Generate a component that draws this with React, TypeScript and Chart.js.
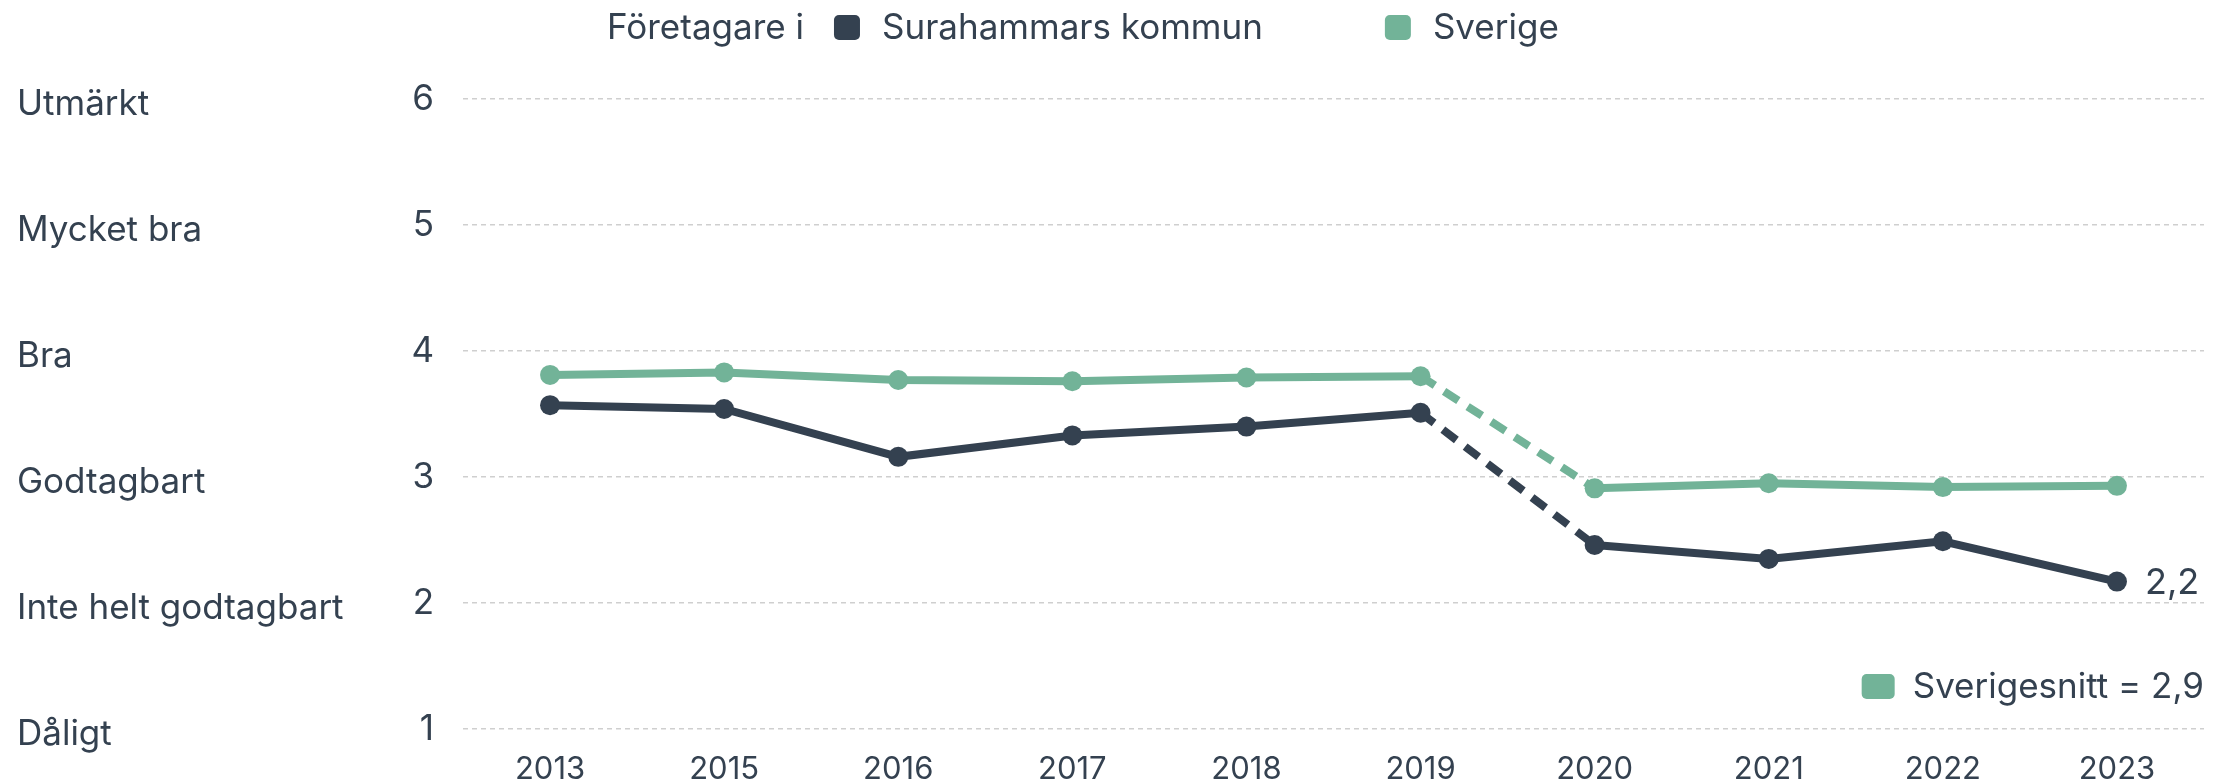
import React, { useEffect, useRef } from "react";
import { Chart, registerables } from "chart.js";

Chart.register(...registerables);

const years = ["2013", "2015", "2016", "2017", "2018", "2019", "2020", "2021", "2022", "2023"];
const surahammar = [3.57, 3.54, 3.16, 3.33, 3.4, 3.51, 2.46, 2.35, 2.49, 2.17];
const sverige = [3.81, 3.83, 3.77, 3.76, 3.79, 3.8, 2.91, 2.95, 2.92, 2.93];
const ratingLabels = ["Dåligt", "Inte helt godtagbart", "Godtagbart", "Bra", "Mycket bra", "Utmärkt"];
const legendPrefix = "Företagare i";
const seriesNames = ["Surahammars kommun", "Sverige"];
const avgLabel = "Sverigesnitt";

const DARK = "#344150";
const GREEN = "#72B398";
const TEXT = "#344150";
const FONT = 'Inter, "Noto Sans", sans-serif';
const W = 2229;
const H = 783;

const fmt = (v: number) => v.toFixed(1).replace(".", ",");

const overlayPlugin = {
  id: "overlay",
  afterDraw(chart: any) {
    const ctx = chart.ctx as CanvasRenderingContext2D;
    const y = chart.scales.y;
    const area = chart.chartArea;
    ctx.save();
    ctx.fillStyle = TEXT;
    ctx.textBaseline = "middle";
    ctx.textAlign = "left";
    ctx.font = `35px ${FONT}`;
    // rating labels on the far left
    ratingLabels.forEach((lab, i) => {
      ctx.fillText(lab, 17, y.getPixelForValue(i + 1) + 5);
    });

    // legend at top
    ctx.font = `35px ${FONT}`;
    const ly = 28;
    let x = 607;
    ctx.fillText(legendPrefix, x, ly);
    x += ctx.measureText(legendPrefix).width + 30;
    const colors = [DARK, GREEN];
    seriesNames.forEach((name, i) => {
      ctx.fillStyle = colors[i];
      ctx.beginPath();
      (ctx as any).roundRect(x, ly - 13, 26, 25, 5);
      ctx.fill();
      x += 26 + 22;
      ctx.fillStyle = TEXT;
      ctx.fillText(name, x, ly);
      x += ctx.measureText(name).width + 122;
    });

    // last value label for Surahammar
    const meta = chart.getDatasetMeta(1);
    const last = meta.data[meta.data.length - 1];
    ctx.font = `36px ${FONT}`;
    ctx.fillStyle = TEXT;
    ctx.fillText(fmt(surahammar[surahammar.length - 1]), last.x + 28, last.y + 2);

    // Sverigesnitt label
    ctx.font = `35px ${FONT}`;
    const txt = `${avgLabel} = ${fmt(sverige[sverige.length - 1])}`;
    const tw = ctx.measureText(txt).width;
    const ty = area.bottom - 42;
    ctx.textAlign = "right";
    ctx.fillText(txt, area.right, ty);
    const sx = area.right - tw - 18 - 33;
    ctx.fillStyle = GREEN;
    ctx.beginPath();
    (ctx as any).roundRect(sx, ty - 13, 33, 25, 5);
    ctx.fill();
    ctx.restore();
  },
};

export default function App() {
  const ref = useRef<HTMLCanvasElement | null>(null);
  useEffect(() => {
    if (!ref.current) return;
    const dashSeg = (ctx: any) => (ctx.p0DataIndex === 5 ? [17, 11] : undefined);
    const chart = new Chart(ref.current, {
      type: "line",
      data: {
        labels: years,
        datasets: [
          {
            label: seriesNames[1],
            data: sverige,
            borderColor: GREEN,
            backgroundColor: GREEN,
            borderWidth: 8,
            pointRadius: 10,
            pointBorderWidth: 0,
            pointBackgroundColor: GREEN,
            segment: { borderDash: dashSeg },
          },
          {
            label: seriesNames[0],
            data: surahammar,
            borderColor: DARK,
            backgroundColor: DARK,
            borderWidth: 8,
            pointRadius: 10,
            pointBorderWidth: 0,
            pointBackgroundColor: DARK,
            segment: { borderDash: dashSeg },
          },
        ],
      },
      options: {
        responsive: false,
        animation: false,
        events: [],
        layout: { padding: { top: 99, right: 25, bottom: 0, left: 0 } },
        plugins: { legend: { display: false }, tooltip: { enabled: false } },
        scales: {
          x: {
            offset: true,
            grid: { display: false },
            border: { display: false },
            ticks: { color: TEXT, font: { family: FONT, size: 31 }, padding: 14 },
            afterFit: (s: any) => {
              s.height = 54;
            },
          },
          y: {
            min: 1,
            max: 6,
            ticks: { stepSize: 1, color: TEXT, font: { family: FONT, size: 35 }, padding: 29 },
            grid: { color: "#cfcfcf", lineWidth: 1.5, drawTicks: false },
            border: { display: false, dash: [5, 4] },
            afterFit: (s: any) => {
              s.width = 463;
            },
          },
        },
      },
      plugins: [overlayPlugin],
    });
    return () => chart.destroy();
  }, []);
  return (
    <div style={{ position: "absolute", left: 0, top: 0, width: W, height: H, background: "#fff" }}>
      <canvas ref={ref} width={W} height={H} style={{ display: "block", width: W, height: H }} />
    </div>
  );
}
